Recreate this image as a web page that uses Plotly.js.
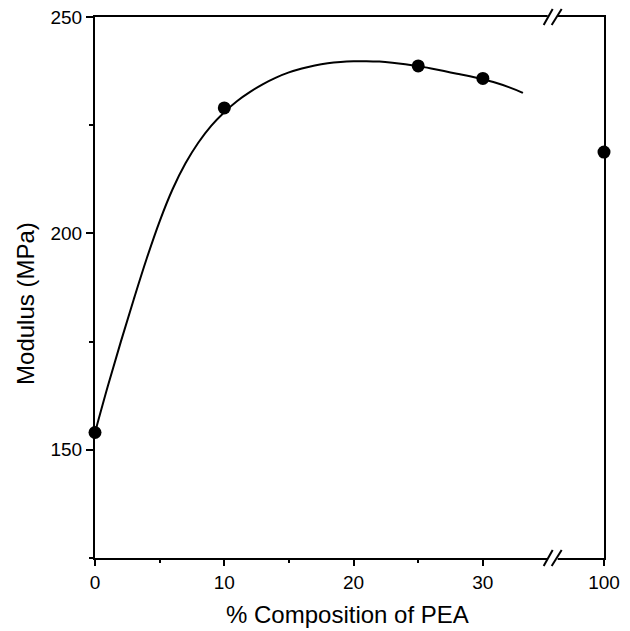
<!DOCTYPE html>
<html>
<head>
<meta charset="utf-8">
<script src="https://cdn.plot.ly/plotly-3.0.1.min.js"></script>
<style>
  html, body { margin: 0; padding: 0; background: #ffffff; }
  #chart { width: 630px; height: 631px; }
</style>
</head>
<body>
<div id="chart"></div>
<script>
// Measured moduli of the PEA blends
const composition = [0, 10, 25, 30, 100];          // % PEA
const modulus = [154, 229, 238.7, 235.8, 218.8];   // MPa

// Fitted trend through the low-PEA blends
const fitComposition = [0, 1, 2, 3, 4, 5, 6, 7, 8, 9, 10, 11, 12, 13, 14, 15, 16, 17,
                        18, 19, 20, 21, 22, 23, 24, 25, 26, 27, 28, 29, 30, 31, 32, 33, 33.1];
const fitModulus = [154, 164.8, 175.0, 184.8, 194.2, 202.8, 210.2, 216.2, 221.0, 224.9,
                    228.0, 230.6, 232.7, 234.5, 236.0, 237.2, 238.1, 238.8, 239.3, 239.6,
                    239.75, 239.8, 239.7, 239.45, 239.1, 238.65, 238.1, 237.5, 236.9, 236.3,
                    235.6, 234.8, 233.8, 232.6, 232.45];

// Axis ticks
const xTickValues = [0, 10, 20, 30, 100];
const xTickLabels = ['0', '10', '20', '30', '100'];
const xMinorValues = [5, 15, 25];
const yTickValues = [150, 200, 250];
const yMinorValues = [125, 175, 225];

// Broken x axis: the linear part runs up to the break, 100 % sits at the right edge
const BREAK_AT = 35.4;      // where the break symbol is drawn
const END_POS = 39.37;      // axis position used for 100 %
function axisPos(v) { return v > BREAK_AT ? END_POS : v; }

const FONT = 'Liberation Sans, Arial, Helvetica, sans-serif';

const traces = [
  {
    x: fitComposition.map(axisPos),
    y: fitModulus,
    mode: 'lines',
    line: { color: '#000', width: 2, shape: 'spline', smoothing: 1 },
    hoverinfo: 'skip',
    cliponaxis: false
  },
  {
    x: composition.map(axisPos),
    y: modulus,
    mode: 'markers',
    marker: { color: '#000', size: 13 },
    cliponaxis: false
  }
];

// Break symbol "//" on the top and bottom axis lines
function breakShapes(anchor) {
  const base = { xref: 'x', yref: 'paper', xsizemode: 'pixel', ysizemode: 'pixel',
                 xanchor: BREAK_AT, yanchor: anchor, layer: 'above' };
  return [
    Object.assign({}, base, { type: 'rect', x0: -5, x1: 5, y0: -3, y1: 3,
                              fillcolor: '#fff', line: { width: 0 } }),
    Object.assign({}, base, { type: 'line', x0: -9, y0: -8, x1: 0, y1: 8,
                              line: { color: '#000', width: 2 } }),
    Object.assign({}, base, { type: 'line', x0: -1, y0: -8, x1: 9, y1: 8,
                              line: { color: '#000', width: 2 } })
  ];
}

const layout = {
  width: 630,
  height: 631,
  margin: { l: 95, r: 26, t: 17, b: 73 },
  paper_bgcolor: '#fff',
  plot_bgcolor: '#fff',
  showlegend: false,
  font: { family: FONT, color: '#000', size: 19 },
  xaxis: {
    range: [0, END_POS],
    tickvals: xTickValues.map(axisPos),
    ticktext: xTickLabels,
    ticks: 'outside',
    ticklen: 6,
    tickwidth: 2,
    tickcolor: '#000',
    minor: { tickvals: xMinorValues, ticks: 'outside', ticklen: 3, tickwidth: 2, tickcolor: '#000' },
    showline: true,
    linecolor: '#000',
    linewidth: 2,
    mirror: true,
    showgrid: false,
    zeroline: false,
    tickfont: { family: FONT, size: 19, color: '#000' }
  },
  yaxis: {
    range: [125, 250],
    tickvals: yTickValues,
    ticks: 'outside',
    ticklen: 7,
    tickwidth: 2,
    tickcolor: '#000',
    minor: { tickvals: yMinorValues, ticks: 'outside', ticklen: 4, tickwidth: 2, tickcolor: '#000' },
    showline: true,
    linecolor: '#000',
    linewidth: 2,
    mirror: true,
    showgrid: false,
    zeroline: false,
    tickfont: { family: FONT, size: 19, color: '#000' }
  },
  shapes: breakShapes(1).concat(breakShapes(0)),
  annotations: [
    {
      text: '% Composition of PEA',
      xref: 'paper', yref: 'paper',
      x: 0.497, y: -0.104, xanchor: 'center', yanchor: 'middle',
      showarrow: false,
      font: { family: FONT, size: 24, color: '#000' }
    },
    {
      text: 'Modulus (MPa)',
      xref: 'paper', yref: 'paper',
      x: -0.138, y: 0.471, xanchor: 'center', yanchor: 'middle',
      textangle: -90,
      showarrow: false,
      font: { family: FONT, size: 24, color: '#000' }
    }
  ]
};

Plotly.newPlot('chart', traces, layout, { displayModeBar: false, staticPlot: true });
</script>
</body>
</html>
